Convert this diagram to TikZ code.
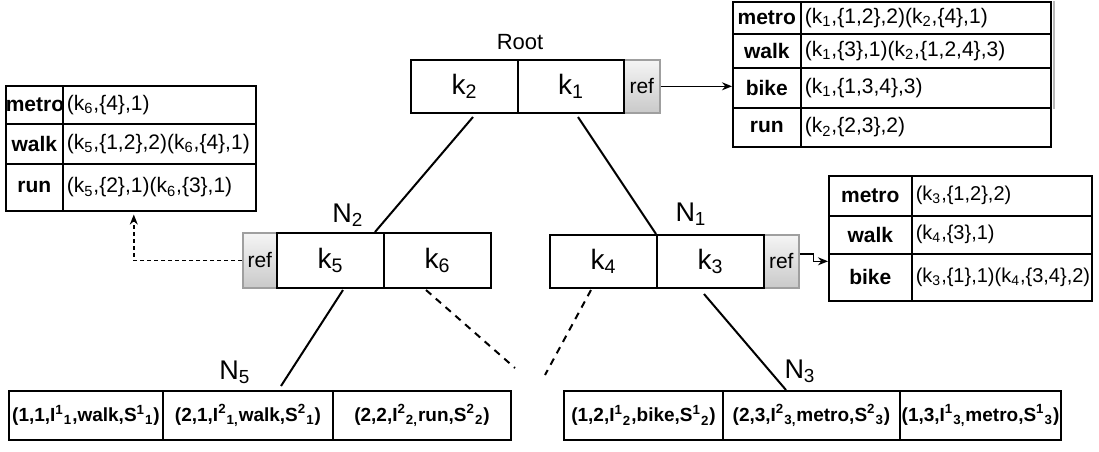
\documentclass[tikz,border=0pt]{standalone}
\usepackage{fontspec}
\setmainfont{Liberation Sans}
\usetikzlibrary{arrows.meta,calc}
\newcommand\kk[1]{k\textsubscript{#1}}
\begin{document}
\begin{tikzpicture}[x=0.5pt,y=-0.5pt,
  box/.style={draw, line width=1pt, inner sep=0pt, anchor=north west},
  keycell/.style={box, font=\fontsize{14}{16}\selectfont},
  refcell/.style={draw=gray!75, line width=0.8pt, top color=gray!8, bottom color=gray!42,
    inner sep=0pt, anchor=north west, font=\fontsize{10.5}{12}\selectfont},
  labcell/.style={box, line width=0.8pt, align=center, font=\fontsize{10.5}{12}\bfseries\selectfont},
  entcell/.style={box, line width=0.8pt, align=left, inner xsep=2pt, font=\fontsize{10.5}{12}\selectfont},
  leafcell/.style={box, align=center, font=\fontsize{9.5}{12}\bfseries\selectfont},
  nodename/.style={inner sep=0pt, font=\fontsize{13.5}{15}\selectfont},
  treeedge/.style={line width=1pt},
  hiddenedge/.style={line width=1pt, dash pattern=on 3.5pt off 3pt},
  refarrow/.style={line width=0.7pt, -{Stealth[length=5pt,width=4pt]}},
  ]
\useasboundingbox (0,0) rectangle (1099,451);

% ---- root node
\node[refcell, minimum width=18pt, minimum height=26.5pt] (rref) at (623,59) {ref};
\node[keycell, minimum width=53.5pt, minimum height=26.5pt] (rk2) at (410,59) {\kk{2}};
\node[keycell, minimum width=53pt, minimum height=26.5pt] (rk1) at (517,59) {\kk{1}};
\node[inner sep=0pt, font=\fontsize{11}{13}\selectfont] (rname) at (520,42) {Root};

% ---- node N2
\node[refcell, minimum width=17pt, minimum height=27.5pt] (n2ref) at (242,232) {ref};
\node[keycell, minimum width=53.5pt, minimum height=27.5pt] (n2k5) at (276,232) {\kk{5}};
\node[keycell, minimum width=53.5pt, minimum height=27.5pt] (n2k6) at (383,232) {\kk{6}};
\node[nodename] (n2name) at (348,215) {N\textsubscript{2}};

% ---- node N1
\node[refcell, minimum width=17.5pt, minimum height=26.5pt] (n1ref) at (763,234) {ref};
\node[keycell, minimum width=53.5pt, minimum height=26.5pt] (n1k4) at (549,234) {\kk{4}};
\node[keycell, minimum width=53.5pt, minimum height=26.5pt] (n1k3) at (656,234) {\kk{3}};
\node[nodename] (n1name) at (691,214) {N\textsubscript{1}};

% ---- leaf N5
\node[leafcell, minimum width=77pt, minimum height=24.5pt] (n5a) at (8,390)
  {(1,1,I\textsuperscript{1}\textsubscript{1},walk,S\textsuperscript{1}\textsubscript{1})};
\node[leafcell, minimum width=85pt, minimum height=24.5pt] (n5b) at (162,390)
  {(2,1,I\textsuperscript{2}\textsubscript{1,}walk,S\textsuperscript{2}\textsubscript{1})};
\node[leafcell, minimum width=89pt, minimum height=24.5pt] (n5c) at (332,390)
  {(2,2,I\textsuperscript{2}\textsubscript{2,}run,S\textsuperscript{2}\textsubscript{2})};
\node[nodename] (n5name) at (235,372) {N\textsubscript{5}};

% ---- leaf N3
\node[leafcell, minimum width=79.5pt, minimum height=24.5pt] (n3a) at (563,390)
  {(1,2,I\textsuperscript{1}\textsubscript{2},bike,S\textsuperscript{1}\textsubscript{2})};
\node[leafcell, minimum width=88.5pt, minimum height=24.5pt] (n3b) at (722,390)
  {(2,3,I\textsuperscript{2}\textsubscript{3,}metro,S\textsuperscript{2}\textsubscript{3})};
\node[leafcell, minimum width=80.5pt, minimum height=24.5pt] (n3c) at (899,390)
  {(1,3,I\textsuperscript{1}\textsubscript{3,}metro,S\textsuperscript{1}\textsubscript{3})};
\node[nodename] (n3name) at (800,371) {N\textsubscript{3}};

% ---- inverted list of the root
\node[labcell, text width=34pt, minimum height=16pt] (t1l1) at (732,1) {metro};
\node[entcell, text width=121pt, minimum height=16pt] (t1e1) at (800,1) {(\kk{1},\{1,2\},2)(\kk{2},\{4\},1)};
\node[labcell, text width=34pt, minimum height=17pt] (t1l2) at (732,33) {walk};
\node[entcell, text width=121pt, minimum height=17pt] (t1e2) at (800,33) {(\kk{1},\{3\},1)(\kk{2},\{1,2,4\},3)};
\node[labcell, text width=34pt, minimum height=20pt] (t1l3) at (732,67) {bike};
\node[entcell, text width=121pt, minimum height=20pt] (t1e3) at (800,67) {(\kk{1},\{1,3,4\},3)};
\node[labcell, text width=34pt, minimum height=19.5pt] (t1l4) at (732,107) {run};
\node[entcell, text width=121pt, minimum height=19.5pt] (t1e4) at (800,107) {(\kk{2},\{2,3\},2)};
\draw[gray!55, line width=1pt] ($(t1e1.north east)+(2,0)$) -- ($(t1e3.south east)+(2,0)$);

% ---- inverted list of N2
\node[labcell, text width=28.5pt, minimum height=19pt] (t2l1) at (5,85) {metro};
\node[entcell, text width=92.5pt, minimum height=19pt] (t2e1) at (62,85) {(\kk{6},\{4\},1)};
\node[labcell, text width=28.5pt, minimum height=20pt] (t2l2) at (5,123) {walk};
\node[entcell, text width=92.5pt, minimum height=20pt] (t2e2) at (62,123) {(\kk{5},\{1,2\},2)(\kk{6},\{4\},1)};
\node[labcell, text width=28.5pt, minimum height=23.5pt] (t2l3) at (5,163) {run};
\node[entcell, text width=92.5pt, minimum height=23.5pt] (t2e3) at (62,163) {(\kk{5},\{2\},1)(\kk{6},\{3\},1)};

% ---- inverted list of N1
\node[labcell, text width=41.5pt, minimum height=20pt] (t3l1) at (828,175) {metro};
\node[entcell, text width=86pt, minimum height=20pt, font=\fontsize{10}{12}\selectfont] (t3e1) at (911,175) {(\kk{3},\{1,2\},2)};
\node[labcell, text width=41.5pt, minimum height=19pt] (t3l2) at (828,215) {walk};
\node[entcell, text width=86pt, minimum height=19pt, font=\fontsize{10}{12}\selectfont] (t3e2) at (911,215) {(\kk{4},\{3\},1)};
\node[labcell, text width=41.5pt, minimum height=23.5pt] (t3l3) at (828,253) {bike};
\node[entcell, text width=86pt, minimum height=23.5pt, font=\fontsize{10}{12}\selectfont] (t3e3) at (911,253) {(\kk{3},\{1\},1)(\kk{4},\{3,4\},2)};

% ---- tree edges
\draw[treeedge] ($(rk2.south)+(8.5,3)$) -- ($(n2k5.north east)+(-10,0)$);
\draw[treeedge] ($(rk1.south)+(7,3)$) -- (n1k3.north west);
\draw[treeedge] ($(n2k5.south)+(12.5,1)$) -- ($(n5b.north)+(33,-4)$);
\draw[treeedge] ($(n1k3.south)+(-6.5,5)$) -- ($(n3b.north)+(-25.5,0)$);

% ---- elided subtrees
\coordinate (gapa) at (515,368);
\coordinate (gapb) at (545,375);
\draw[hiddenedge] ($(n2k6.south)+(-11.5,1)$) -- (gapa);
\draw[hiddenedge] ($(n1k4.south)+(-12.5,1)$) -- (gapb);

% ---- references to the inverted lists
\draw[refarrow] (rref.east) -- (rref.east -| t1l3.west);
\draw[refarrow, dash pattern=on 2pt off 1.5pt] (n2ref.west) -| ($(t2e3.south)+(-25.5,3)$);
\draw[refarrow] ([yshift=3.75pt]n1ref.east) -- ++(7pt,0) |- (n1ref.east -| t3l3.west);
\end{tikzpicture}
\end{document}
